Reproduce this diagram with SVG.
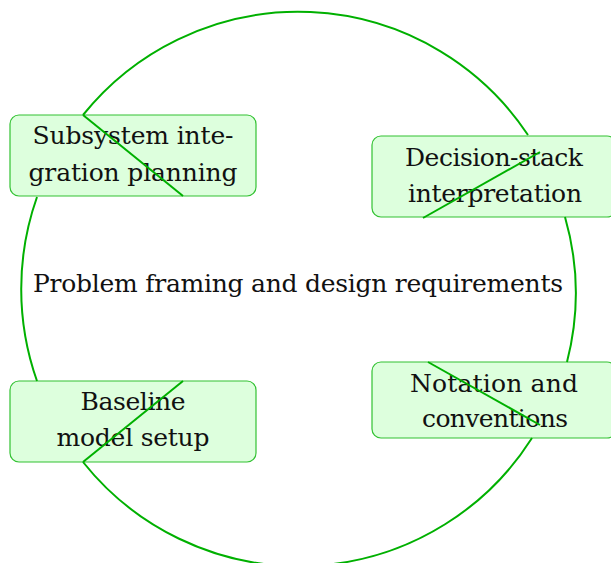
<svg xmlns="http://www.w3.org/2000/svg" width="611" height="563" viewBox="0 0 611 563">
<style>
.box{fill:#ddffdd;stroke:#33c233;stroke-width:1.2}
.lbl{font-family:"DejaVu Serif","Liberation Serif",serif;font-size:25px;fill:#111111;text-anchor:middle}
.con{fill:none;stroke:#00b000;stroke-width:2}
</style>
<rect width="611" height="563" fill="#ffffff"/>
<g id="center">
<text class="lbl" x="298" y="292" textLength="530">Problem framing and design requirements</text>
</g>
<g id="n1">
<rect class="box" x="10" y="115" width="246" height="81" rx="9"/>
<text class="lbl" x="133" y="144" textLength="201">Subsystem inte-</text>
<text class="lbl" x="133" y="181" textLength="209">gration planning</text>
</g>
<g id="n2">
<rect class="box" x="372" y="136" width="244" height="81" rx="9"/>
<text class="lbl" x="494" y="166" textLength="178">Decision-stack</text>
<text class="lbl" x="495" y="202" textLength="174">interpretation</text>
</g>
<g id="n3">
<rect class="box" x="10" y="381" width="246" height="81" rx="9"/>
<text class="lbl" x="133" y="410" textLength="105">Baseline</text>
<text class="lbl" x="133" y="446" textLength="153">model setup</text>
</g>
<g id="n4">
<rect class="box" x="372" y="362" width="244" height="76" rx="9"/>
<text class="lbl" x="494" y="392" textLength="168">Notation and</text>
<text class="lbl" x="495" y="427" textLength="146">conventions</text>
</g>
<g id="connectors">
<path class="con" d="M83 115 A276 276 0 0 1 528 135"/>
<path class="con" d="M565 217 A276 276 0 0 1 567 362"/>
<path class="con" d="M532 438 A276 276 0 0 1 83 462"/>
<path class="con" d="M37 381 A276 276 0 0 1 37 197"/>
<path class="con" d="M83 115 L183 196"/>
<path class="con" d="M423 218 L540 152"/>
<path class="con" d="M83 462 L183 381"/>
<path class="con" d="M428 362 L540 425"/>
</g>
</svg>
